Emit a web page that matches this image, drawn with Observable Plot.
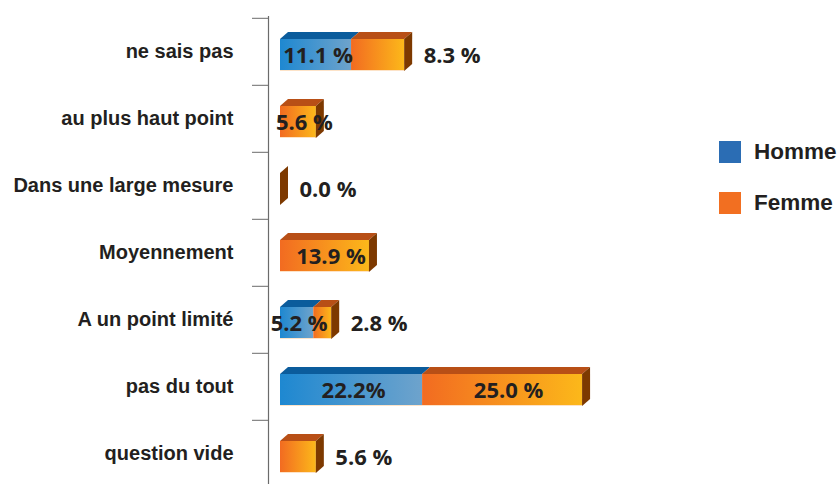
<!DOCTYPE html>
<html>
<head>
<meta charset="utf-8">
<script src="https://cdn.jsdelivr.net/npm/d3@7"></script>
<script src="https://cdn.jsdelivr.net/npm/@observablehq/plot@0.6"></script>
<style>
  html, body { margin: 0; padding: 0; background: #fff; }
  #wrap { position: relative; width: 839px; height: 484px; overflow: hidden; }
  #legend { position: absolute; left: 719px; top: 141px; font-family: "Liberation Sans", Arial, sans-serif; font-weight: bold; font-size: 22.5px; color: #231f20; }
  .item { position: relative; height: 51px; }
  .sw { position: absolute; left: 0; top: 0; width: 22px; height: 22px; }
  .lb { position: absolute; left: 35px; top: -1px; line-height: 24px; white-space: nowrap; }
</style>
</head>
<body>
<div id="wrap">
  <div id="chart"></div>
  <div id="legend">
    <div class="item"><div class="sw" style="background:#2b6db4"></div><div class="lb">Homme</div></div>
    <div class="item"><div class="sw" style="background:#f26f21"></div><div class="lb">Femme</div></div>
  </div>
</div>
<script>
const categories = ["ne sais pas", "au plus haut point", "Dans une large mesure", "Moyennement", "A un point limité", "pas du tout", "question vide"];
const homme = [11.1, 0, 0, 0, 5.2, 22.2, 0];
const femme = [8.3, 5.6, 0, 13.9, 2.8, 25.0, 5.6];
const hommeLabels = ["11.1 %", "", "", "", "5.2 %", "22.2%", ""];
const femmeLabels = ["8.3 %", "5.6 %", "0.0 %", "13.9 %", "2.8 %", "25.0 %", "5.6 %"];
const femmeInside = [false, true, false, true, false, true, false];

const rows = categories.map((c, i) => ({
  cat: c, h: homme[i], f: femme[i], hl: hommeLabels[i], fl: femmeLabels[i], inside: femmeInside[i]
}));

const INSET_TOP = 21, INSET_BOTTOM = 14, DX = 8, DY = 7;

function bars3d(index, scales) {
  const x = scales.x, y = scales.y;
  const bw = y.bandwidth ? y.bandwidth() : 67.4;
  const g = d3.create("svg:g");
  const defs = g.append("defs");
  const gh = defs.append("linearGradient").attr("id", "gH").attr("x1", 0).attr("x2", 1).attr("y1", 0).attr("y2", 0);
  gh.append("stop").attr("offset", 0).attr("stop-color", "#1e88d1");
  gh.append("stop").attr("offset", 1).attr("stop-color", "#6ea3cc");
  const gf = defs.append("linearGradient").attr("id", "gF").attr("x1", 0).attr("x2", 1).attr("y1", 0).attr("y2", 0);
  gf.append("stop").attr("offset", 0).attr("stop-color", "#f26b21");
  gf.append("stop").attr("offset", 1).attr("stop-color", "#fcb81a");
  const pts = a => a.map(p => p.join(",")).join(" ");
  rows.forEach(r => {
    const t = y(r.cat) + INSET_TOP;
    const b = y(r.cat) + bw - INSET_BOTTOM;
    const x0 = x(0), xh = x(r.h), xf = x(r.h + r.f);
    const segs = [];
    if (r.h > 0) segs.push([x0, xh, "url(#gH)", "#0b5c9c"]);
    if (r.f > 0) segs.push([xh, xf, "url(#gF)", "#b84f16"]);
    segs.forEach(([a, c, front, topc]) => {
      g.append("polygon").attr("points", pts([[a, t], [c, t], [c + DX, t - DY], [a + DX, t - DY]])).attr("fill", topc);
    });
    segs.forEach(([a, c, front]) => {
      g.append("rect").attr("x", a).attr("y", t).attr("width", c - a).attr("height", b - t).attr("fill", front);
    });
    if (r.h + r.f > 0) g.append("line").attr("x1", x0).attr("x2", xf).attr("y1", b - 0.5).attr("y2", b - 0.5).attr("stroke", "#fde3c8").attr("stroke-width", 1);
    g.append("polygon").attr("points", pts([[xf, t], [xf + DX, t - DY], [xf + DX, b - DY], [xf, b]])).attr("fill", "#7d3900");
  });
  return g.node();
}

const chart = Plot.plot({
  width: 839,
  height: 484,
  marginLeft: 268,
  marginTop: 16,
  marginBottom: 0,
  marginRight: 0,
  style: { fontFamily: "Liberation Sans, Arial, sans-serif", color: "#231f20", background: "transparent" },
  x: { domain: [0, 50], range: [280, 600], axis: null },
  y: { type: "band", domain: categories, range: [16, 488], padding: 0, label: null },
  marks: [
    Plot.ruleX([0], { dx: -12, stroke: "#6b6b6b", strokeWidth: 1.2 }),
    Plot.axisY({ anchor: "left", tickSize: 16, tickFormat: () => "", dy: -33.7, stroke: "#6b6b6b", label: null }),
    Plot.axisY({ anchor: "left", tickSize: 0, tickPadding: 35, fontSize: 20, fontWeight: "bold", fill: "#231f20", label: null }),
    bars3d,
    Plot.text(rows.filter(r => r.hl), {
      x: r => r.h / 2, y: "cat", text: "hl", dy: 3.5, dx: 2,
      fontFamily: "Open Sans", fontWeight: "bold", fontSize: 22, fill: "#231f20"
    }),
    Plot.text(rows.filter(r => r.inside), {
      x: r => r.h + r.f / 2, y: "cat", text: "fl", dy: 3.5, dx: 6,
      fontFamily: "Open Sans", fontWeight: "bold", fontSize: 22, fill: "#231f20"
    }),
    Plot.text(rows.filter(r => !r.inside), {
      x: r => r.h + r.f, y: "cat", text: "fl", dy: 3.5, dx: 19, textAnchor: "start",
      fontFamily: "Open Sans", fontWeight: "bold", fontSize: 22, fill: "#231f20"
    })
  ]
});
document.getElementById("chart").appendChild(chart);
</script>
</body>
</html>
